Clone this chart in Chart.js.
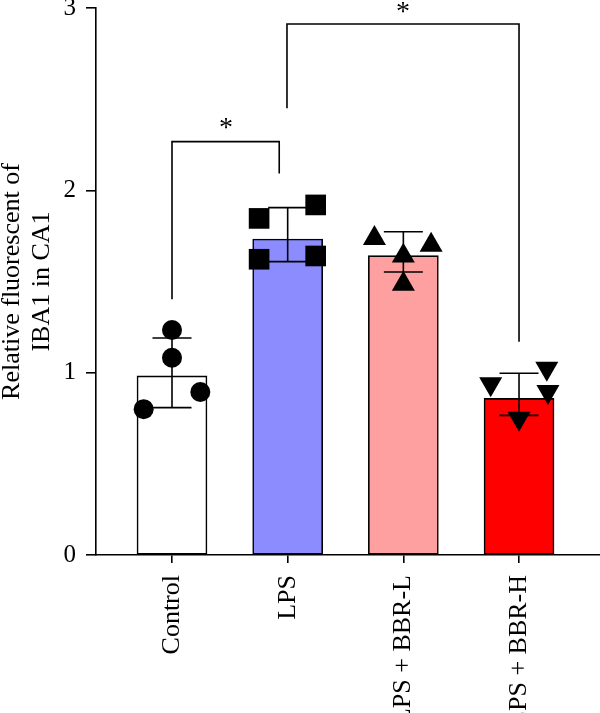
<!DOCTYPE html>
<html>
<head>
<meta charset="utf-8">
<script src="https://cdn.jsdelivr.net/npm/chart.js@4.4.1/dist/chart.umd.min.js"></script>
<style>
  html, body { margin: 0; padding: 0; background: #ffffff; }
  #wrap { width: 600px; height: 713px; position: relative; }
</style>
</head>
<body>
<div id="wrap"><canvas id="c" width="600" height="713"></canvas></div>
<script>
// ---- data ----
const categories = ['Control', 'LPS', 'LPS + BBR-L', 'LPS + BBR-H'];
const means   = [0.982, 1.733, 1.642, 0.859];
const errHigh = [1.190, 1.905, 1.773, 0.997];
const errLow  = [0.808, 1.609, 1.552, 0.766];

const controlPts    = [0.800, 1.234, 1.082, 0.894];
const controlJitter = [-0.245, 0, 0, 0.245];
const lpsPts        = [1.846, 1.622, 1.920, 1.640];
const lpsJitter     = [-0.247, -0.247, 0.242, 0.242];
const bbrLPts       = [1.737, 1.640, 1.486, 1.700];
const bbrLJitter    = [-0.25, 0, 0, 0.24];
const bbrHPts       = [0.938, 0.749, 1.023, 0.896];
const bbrHJitter    = [-0.245, 0, 0.24, 0.25];

const yTicks = [0, 1, 2, 3];

// significance brackets (category units / value units)
const sig1X = [0, 0, 0.927, 0.927];
const sig1Y = [1.403, 2.267, 2.267, 2.093];
const sig2X = [0.994, 0.994, 3.0, 3.0];
const sig2Y = [2.45, 2.912, 2.912, 1.17];
const starLabels = ['*', '*'];
const starX = [0.467, 1.997];
const starY = [2.369, 3.004];

// ---- styling ----
const SERIF = "'Liberation Serif', 'DejaVu Serif', serif";
const barColors = ['#ffffff', '#8c8cff', '#ffa0a0', '#ff0000'];

const toXY = (xs, ys) => xs.map((x, i) => ({ x: x, y: ys[i] }));
const ptsXY = (gi, vals, jit) => vals.map((v, i) => ({ x: gi + jit[i], y: v }));

const errorBarPlugin = {
  id: 'errorBars',
  afterDatasetDraw(chart, args) {
    if (args.index !== 0) return;
    const ctx = chart.ctx;
    const ys = chart.scales.y;
    const meta = chart.getDatasetMeta(0);
    ctx.save();
    ctx.strokeStyle = '#000';
    ctx.lineWidth = 1.6;
    meta.data.forEach((bar, i) => {
      const x = bar.x;
      const yh = ys.getPixelForValue(errHigh[i]);
      const yl = ys.getPixelForValue(errLow[i]);
      const half = 19.5;
      ctx.beginPath();
      ctx.moveTo(x, yh); ctx.lineTo(x, yl);
      ctx.moveTo(x - half, yh); ctx.lineTo(x + half, yh);
      ctx.moveTo(x - half, yl); ctx.lineTo(x + half, yl);
      ctx.stroke();
    });
    ctx.restore();
  }
};

const starPlugin = {
  id: 'stars',
  afterDraw(chart) {
    const ctx = chart.ctx;
    const xs = chart.scales.x, ys = chart.scales.y;
    const size = 28;
    ctx.save();
    ctx.fillStyle = '#000';
    ctx.font = size + 'px ' + SERIF;
    ctx.textAlign = 'center';
    ctx.textBaseline = 'alphabetic';
    starLabels.forEach((s, i) => {
      ctx.fillText(s, xs.getPixelForValue(starX[i]), ys.getPixelForValue(starY[i]) + 0.45 * size);
    });
    ctx.restore();
  }
};

const bracketStyle = {
  type: 'line', borderColor: '#000', borderWidth: 1.6, pointRadius: 0,
  fill: false, tension: 0, order: 1, clip: false
};
const pointStyleBase = {
  type: 'scatter', backgroundColor: '#000', borderColor: '#000', borderWidth: 0, order: 0, clip: false
};

new Chart(document.getElementById('c'), {
  type: 'bar',
  data: {
    datasets: [
      {
        label: 'Mean',
        data: toXY([0, 1, 2, 3], means),
        backgroundColor: barColors,
        borderColor: '#000',
        borderWidth: 1.6,
        barThickness: 70,
        borderSkipped: false,
        order: 3
      },
      Object.assign({}, bracketStyle, { label: 'sig1', data: toXY(sig1X, sig1Y) }),
      Object.assign({}, bracketStyle, { label: 'sig2', data: toXY(sig2X, sig2Y) }),
      Object.assign({}, pointStyleBase, { label: 'Control', data: ptsXY(0, controlPts, controlJitter), pointStyle: 'circle', pointRadius: 10 }),
      Object.assign({}, pointStyleBase, { label: 'LPS', data: ptsXY(1, lpsPts, lpsJitter), pointStyle: 'rect', pointRadius: 14.6 }),
      Object.assign({}, pointStyleBase, { label: 'LPS + BBR-L', data: ptsXY(2, bbrLPts, bbrLJitter), pointStyle: 'triangle', pointRadius: 13.3 }),
      Object.assign({}, pointStyleBase, { label: 'LPS + BBR-H', data: ptsXY(3, bbrHPts, bbrHJitter), pointStyle: 'triangle', pointRotation: 180, pointRadius: 13.3 })
    ]
  },
  options: {
    responsive: false,
    animation: false,
    events: [],
    layout: { autoPadding: false, padding: { top: 8, right: 0, bottom: 0, left: 0 } },
    plugins: { legend: { display: false }, tooltip: { enabled: false } },
    scales: {
      x: {
        type: 'linear',
        min: -0.657,
        max: 3.70,
        offset: false,
        afterBuildTicks(scale) { scale.ticks = categories.map((c, i) => ({ value: i })); },
        afterFit(scale) {
          scale.height = 158;
          scale.paddingLeft = 0; scale.paddingRight = 0;
          scale.paddingTop = 0; scale.paddingBottom = 0;
        },
        ticks: {
          autoSkip: false,
          minRotation: 90,
          maxRotation: 90,
          padding: 12,
          color: '#000',
          font: { family: SERIF, size: 26, lineHeight: 1 },
          callback: (v) => categories[Math.round(v)]
        },
        grid: { display: true, offset: false, drawOnChartArea: false, drawTicks: true, tickLength: 8, color: '#000', lineWidth: 1.6 },
        border: { display: true, color: '#000', width: 1.6 }
      },
      y: {
        type: 'linear',
        min: 0,
        max: 3,
        afterBuildTicks(scale) { scale.ticks = yTicks.map(v => ({ value: v })); },
        afterFit(scale) {
          scale.width = 96;
          scale.paddingTop = 0; scale.paddingBottom = 0;
          scale.paddingLeft = 0; scale.paddingRight = 0;
        },
        ticks: {
          padding: 10,
          color: '#000',
          font: { family: SERIF, size: 25, lineHeight: 0.6 },
          callback: (v) => String(v)
        },
        grid: { display: true, drawOnChartArea: false, drawTicks: true, tickLength: 10, color: '#000', lineWidth: 1.6 },
        border: { display: true, color: '#000', width: 1.6 },
        title: {
          display: true,
          text: ['Relative fluorescent of', 'IBA1 in CA1'],
          color: '#000',
          font: { family: SERIF, size: 26, lineHeight: 1.12 },
          padding: { top: -2, bottom: 0 }
        }
      }
    }
  },
  plugins: [errorBarPlugin, starPlugin]
});
</script>
</body>
</html>
